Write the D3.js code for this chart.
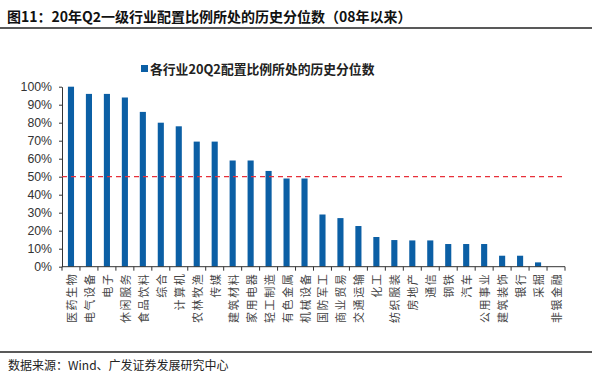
<!DOCTYPE html>
<html><head><meta charset="utf-8">
<script src="https://cdn.jsdelivr.net/npm/d3@7"></script>
<style>body{margin:0;background:#fff}svg{display:block}</style>
</head><body>
<svg id="c" width="600" height="382"></svg>
<script>
const categories = ["医药生物","电气设备","电子","休闲服务","食品饮料","综合","计算机","农林牧渔","传媒","建筑材料","家用电器","轻工制造","有色金属","机械设备","国防军工","商业贸易","交通运输","化工","纺织服装","房地产","通信","钢铁","汽车","公用事业","建筑装饰","银行","采掘","非银金融"];
const values = [100,96,96,94,86,80,78,69.5,69.5,59,59,53.2,49,49,29,27,22.6,16.5,14.8,14.6,14.6,12.6,12.6,12.6,6.1,6.1,2.4,0];
const yTicks = [0,10,20,30,40,50,60,70,80,90,100];
const threshold = 50;
const seriesName = "各行业20Q2配置比例所处的历史分位数";
const title = "图11：20年Q2一级行业配置比例所处的历史分位数（08年以来）";
const source = "数据来源：Wind、广发证券发展研究中心";

const svg = d3.select("#c");
const cjk = "'Noto Sans CJK SC','Liberation Sans',sans-serif";
const pL = 62, pR = 565, pT = 86.7, pB = 266.7;

svg.append("text").attr("x", 7).attr("y", 22).attr("font-family", cjk)
  .attr("font-size", 14).attr("font-weight", "bold").attr("fill", "#111").text(title);
svg.append("line").attr("x1", 0).attr("x2", 592).attr("y1", 28).attr("y2", 28)
  .attr("stroke", "#222").attr("stroke-width", 1.6);
svg.append("line").attr("x1", 0).attr("x2", 592).attr("y1", 352).attr("y2", 352)
  .attr("stroke", "#222").attr("stroke-width", 1.4);
svg.append("text").attr("x", 8).attr("y", 370).attr("font-family", cjk)
  .attr("font-size", 12).attr("fill", "#222").text(source);

// legend
svg.append("rect").attr("x", 141).attr("y", 65).attr("width", 7).attr("height", 7).attr("fill", "#0b5fa5");
svg.append("text").attr("x", 150).attr("y", 73.5).attr("font-family", cjk)
  .attr("font-size", 12.8).attr("font-weight", "bold").attr("fill", "#222").text(seriesName);

const x = d3.scaleBand().domain(categories).range([pL, pR]).paddingInner(0.66).paddingOuter(0.33);
const y = d3.scaleLinear().domain([0, 100]).range([pB, pT]);

svg.append("g").selectAll("rect").data(values).join("rect")
  .attr("x", (d, i) => x(categories[i])).attr("width", x.bandwidth())
  .attr("y", d => y(d)).attr("height", d => y(0) - y(d)).attr("fill", "#0b5fa5");

// y axis
const ya = svg.append("g").attr("transform", `translate(${pL},0)`)
  .call(d3.axisLeft(y).tickValues(yTicks).tickFormat(d => d + "%").tickSize(3).tickSizeOuter(0));
ya.select(".domain").attr("stroke", "#333");
ya.selectAll(".tick line").attr("stroke", "#333");
ya.selectAll("text").attr("font-family", "'Liberation Sans',Arial,sans-serif").attr("font-size", 12.3).attr("fill", "#333").attr("x", -10);

// x axis
const xa = svg.append("g").attr("transform", `translate(0,${pB})`);
xa.append("line").attr("x1", pL).attr("x2", pR).attr("y1", 0).attr("y2", 0).attr("stroke", "#333");
const step = x.step();
xa.selectAll(".tk").data(d3.range(categories.length + 1)).join("line")
  .attr("x1", i => pL + i * step).attr("x2", i => pL + i * step)
  .attr("y1", 0).attr("y2", 4).attr("stroke", "#333");
// labels: rotated -90°, reading bottom-to-top, last character nearest the axis
const pitch = 12.6;
xa.selectAll(".lab").data(categories).join("g").each(function(c) {
  const cx = x(c) + x.bandwidth() / 2;
  const chars = [...c];
  const n = chars.length;
  d3.select(this).selectAll("text").data(chars).join("text")
    .attr("font-family", cjk).attr("font-size", 11).attr("fill", "#444")
    .attr("text-anchor", "middle").attr("dominant-baseline", "central")
    .attr("transform", (ch, k) => `translate(${cx},${13 + (n - 1 - k) * pitch}) rotate(-90)`)
    .text(ch => ch);
});

// threshold dashed line
svg.append("line").attr("x1", pL).attr("x2", pR).attr("y1", y(threshold)).attr("y2", y(threshold))
  .attr("stroke", "#e8303a").attr("stroke-width", 1.3).attr("stroke-dasharray", "5,4");
</script>
</body></html>
